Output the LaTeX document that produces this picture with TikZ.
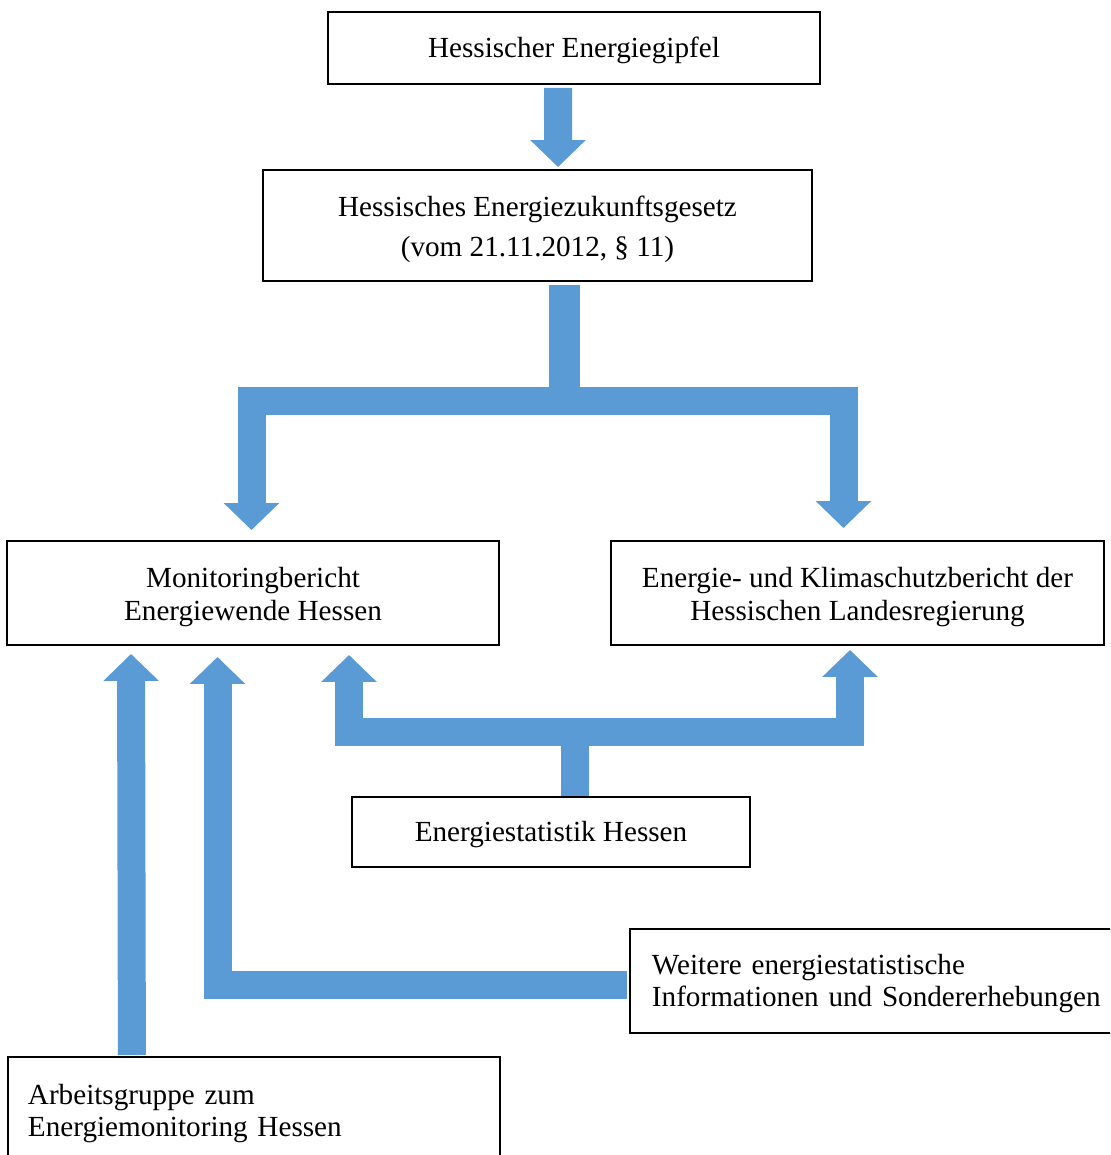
\documentclass[tikz,border=0pt]{standalone}
\usepackage{fontspec}
\setmainfont{Liberation Serif}
\usetikzlibrary{arrows.meta,calc}

\definecolor{arrowblue}{RGB}{91,155,213}
\newcommand{\toprule}{\rule{0pt}{16pt}}
\tikzset{
  box/.style={draw,line width=1.1pt,inner sep=0pt,align=center,
    font=\fontsize{16.6pt}{18.4pt}\selectfont,execute at begin node={\rule{0pt}{14.6pt}}},
  leftbox/.style={box,anchor=north west,align=left,inner xsep=0.44cm},
  fatbar/.style={draw=arrowblue,line width=0.56cm},
  fatarrow/.style={fatbar,-{Triangle[width=1.08cm,length=0.54cm]}}
}

\begin{document}
\begin{tikzpicture}[x=0.02cm,y=-0.02cm]
\path[use as bounding box,clip] (0,0) rectangle (1110,1155);

\node[box,minimum width=9.84cm,minimum height=1.44cm] (gipfel) at (574,48) {Hessischer Energiegipfel};
\node[box,minimum width=10.98cm,minimum height=2.22cm] (gesetz) at (537.5,225.5)
  {\toprule Hessisches Energiezukunftsgesetz\\[4.5pt](vom 21.11.2012, \S\ 11)};
\node[box,minimum width=9.84cm,minimum height=2.08cm] (monitor) at (253,593)
  {\toprule Monitoringbericht\\Energiewende Hessen};
\node[box,minimum width=9.86cm,minimum height=2.08cm] (klima) at (857.5,593)
  {\toprule Energie- und Klimaschutzbericht der\\Hessischen Landesregierung};
\node[box,minimum width=7.96cm,minimum height=1.4cm] (statistik) at (551,832) {Energiestatistik Hessen};
\node[leftbox,text width=9.8cm,minimum height=2.08cm] (weitere) at (629,928)
  {Weitere energiestatistische\\Informationen und Sondererhebungen};
\node[leftbox,inner xsep=0.40cm,text width=9.04cm,minimum height=2.16cm] (arbeit) at (7,1056)
  {Arbeitsgruppe zum\\Energiemonitoring Hessen};

% gipfel -> gesetz
\draw[fatarrow] ($(gipfel.south)+(-16,3)$) -- ($(gesetz.north)+(20.5,-2)$);

% gesetz -> both reports
\coordinate (split) at ($(gesetz.south)+(27,119)$);
\draw[fatbar,line width=0.62cm] ($(gesetz.south)+(27,3)$) -- (split);
\draw[fatarrow] (split) -| ($(monitor.north)+(-1.5,-10)$);
\draw[fatarrow] (split) -| ($(klima.north)+(-14,-12)$);

% statistik -> both reports
\coordinate (split2) at ($(statistik.north)+(23.5,-64)$);
\draw[fatbar] (statistik.north -| split2) -- (split2);
\draw[fatarrow] (split2) -| ($(monitor.south)+(96,9)$);
\draw[fatarrow] (split2) -| ($(klima.south)+(-7.5,4)$);

% weitere -> monitor
\draw[fatarrow] ($(weitere.west)+(-2,4)$) -| ($(monitor.south)+(-35.5,11)$);

% arbeit -> monitor
\draw[fatarrow] ($(arbeit.north)+(-122,-1)$) -- ($(monitor.south)+(-122,8)$);

\end{tikzpicture}
\end{document}
